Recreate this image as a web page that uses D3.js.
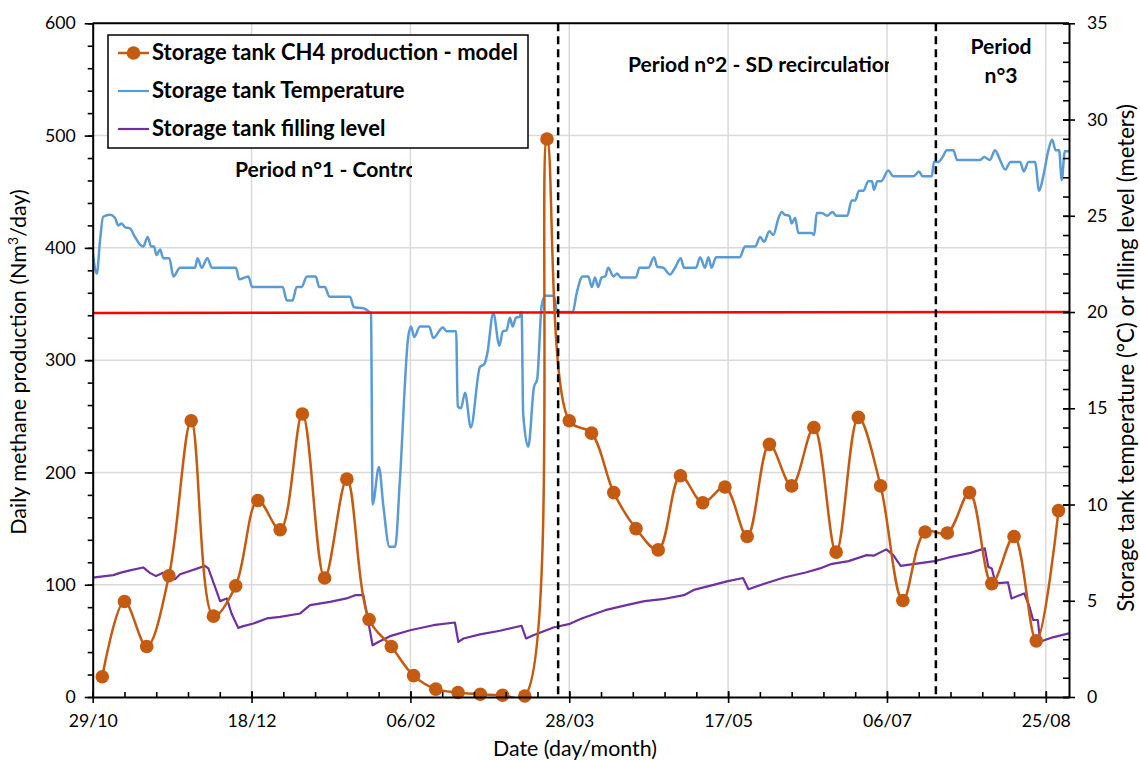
<!DOCTYPE html>
<html><head><meta charset="utf-8">
<script src="https://cdn.jsdelivr.net/npm/d3@7"></script>
<style>
body{margin:0;background:#fff}
svg{display:block}
text{font-family:Lato,"Liberation Sans",sans-serif;fill:#000}
</style>
</head><body>
<svg id="chart" width="1140" height="760"></svg>
<script>
// ---------- DATA ----------
const startDate = "2018-10-29";
const endDay = 307.3;
const xTickDays = [0, 50, 100, 150, 200, 250, 300];
const xTickLabels = ["29/10", "18/12", "06/02", "28/03", "17/05", "06/07", "25/08"];
const leftTicks = [0, 100, 200, 300, 400, 500, 600];
const rightTicks = [0, 5, 10, 15, 20, 25, 30, 35];

const ch4Dates = ["2018-11-01","2018-11-08","2018-11-15","2018-11-22","2018-11-29","2018-12-06","2018-12-13",
  "2018-12-20","2018-12-27","2019-01-03","2019-01-10","2019-01-17","2019-01-24","2019-01-31","2019-02-07",
  "2019-02-14","2019-02-21","2019-02-28","2019-03-07","2019-03-14","2019-03-21","2019-03-28","2019-04-04",
  "2019-04-11","2019-04-18","2019-04-25","2019-05-02","2019-05-09","2019-05-16","2019-05-23","2019-05-30",
  "2019-06-06","2019-06-13","2019-06-20","2019-06-27","2019-07-04","2019-07-11","2019-07-18","2019-07-25",
  "2019-08-01","2019-08-08","2019-08-15","2019-08-22","2019-08-29"];
const ch4Values = [18, 85, 45, 108, 246, 72, 99, 175, 149, 252, 106, 194, 69, 45, 19, 7, 4, 2.4, 1.5, 0.9,
  497, 246, 235, 182, 150, 131, 197, 173, 187, 143, 225, 188, 240, 129, 249, 188, 86, 147, 146, 182, 101, 143, 50, 166];

const tempDays = [0,1.3,2.3,3.3,5.4,7.0,8.0,9.1,10.2,11.7,13.3,14.9,15.9,17.3,18.4,19.3,20.1,21.2,22.2,24.1,25.4,27.5,
  32.2,33.0,34.3,36.1,37.5,45.1,46.1,49.0,50.2,59.8,61.1,62.9,64.2,65.8,67.4,70.2,71.3,73.1,74.5,81.0,82.2,85.2,87.1,
  87.6,88.1,90.1,91.5,93.4,95.2,96.7,99.3,100.2,101.2,103.0,105.9,107.2,110.2,111.4,114.4,114.9,115.9,117.2,119.0,
  121.9,123.3,124.2,126.1,128.0,129.1,130.3,131.3,132.2,133.2,134.3,135.0,135.5,137.1,138.9,139.9,141.3,142.4,145.2,
  146.2,151.1,152.3,154.2,156.0,157.1,158.1,159.1,160.2,161.3,162.3,163.9,165.1,166.2,171.0,172.1,174.9,176.7,177.7,
  179.6,181.7,183.3,185.1,186.1,189.9,191.2,192.7,193.8,194.8,196.2,203.7,205.3,208.5,210.1,211.3,213.0,214.2,215.8,
  216.9,217.9,219.3,220.0,221.1,222.1,226.3,227.1,227.9,229.5,231.1,232.9,234.0,237.5,238.9,240.0,241.2,242.6,244.1,
  245.3,245.9,247.0,248.2,250.4,252.0,258.3,260.1,261.2,264.1,264.8,266.2,267.7,268.8,270.9,272.1,279.3,280.6,282.4,
  284.0,285.6,287.2,288.9,291.9,293.1,294.5,296.6,297.9,299.2,300.8,302.0,303.1,304.2,305.0,306.0,307.3];
const tempValues = [23.1,22.0,23.7,24.95,25.05,24.9,24.5,24.6,24.4,24.35,23.9,23.5,23.4,23.9,23.4,23.4,22.95,23.25,22.8,
  22.8,21.85,22.3,22.3,22.8,22.3,22.8,22.3,22.3,21.7,21.85,21.3,21.3,20.6,20.6,21.3,21.3,21.85,21.85,21.3,21.3,20.8,20.8,
  20.25,20.2,20.0,19.9,10.0,11.95,9.9,7.8,7.8,11.3,18.7,19.25,18.7,19.25,19.25,18.65,19.2,19.0,19.0,15.1,15.0,15.8,14.0,
  17.15,17.3,17.85,19.95,18.25,19.0,19.05,19.7,19.25,19.7,19.75,20.0,14.7,13.0,16.1,16.5,20.3,20.85,20.85,
  20.0,20.0,20.95,21.85,21.85,21.3,21.8,21.3,21.8,21.85,22.3,21.85,22.0,21.8,21.8,22.3,22.3,22.85,22.35,
  22.3,21.95,22.3,22.8,22.3,22.3,22.85,22.3,22.85,22.3,22.85,22.85,23.4,23.4,23.9,23.65,24.2,24.0,24.85,
  25.2,25.05,25.0,24.6,24.9,24.1,24.1,24.0,25.15,25.15,25.0,25.2,25.0,25.0,25.8,25.8,26.3,26.3,26.8,
  26.8,26.35,26.8,26.8,27.35,27.05,27.05,27.3,27.05,27.05,27.8,27.8,28.1,28.4,28.4,27.9,27.9,28.05,27.9,
  28.4,27.9,27.4,27.8,27.8,27.3,27.8,27.8,26.3,27.05,28.4,28.95,28.4,28.4,26.85,28.35,28.35];

const levelDays = [0,6.5,8.6,11.7,15.9,18.0,19.9,22.2,24.0,25.9,27.5,30.6,35.3,36.4,38.5,40.1,42.2,43.7,45.8,47.4,50.6,
  54.8,59.0,65.3,68.4,74.7,79.9,82.6,85.2,88.1,89.9,93.6,99.9,107.2,114.0,115.1,116.7,121.9,128.2,135.0,136.4,138.7,
  145.0,150.2,153.9,161.3,168.0,173.7,179.3,186.1,189.5,195.1,199.6,204.7,206.4,210.9,217.6,224.4,228.9,232.3,237.9,
  243.6,245.8,249.8,252.0,254.3,258.2,265.0,269.5,276.3,280.8,281.9,283.0,284.2,288.1,289.2,293.2,294.9,296.0,297.5,
  298.2,302.2,307.3];
const levelValues = [6.2,6.33,6.45,6.58,6.73,6.45,6.28,6.45,6.3,6.12,6.38,6.55,6.81,6.68,5.72,4.98,5.12,4.34,3.59,3.68,3.82,
  4.08,4.16,4.34,4.77,4.94,5.12,5.29,5.29,2.69,2.86,3.16,3.47,3.73,3.87,2.86,3.04,3.25,3.44,3.70,3.04,3.21,
  3.61,3.80,4.08,4.51,4.77,4.98,5.08,5.29,5.58,5.81,6.01,6.18,5.6,5.86,6.21,6.47,6.68,6.90,7.06,
  7.37,7.34,7.67,7.37,6.81,6.90,7.06,7.25,7.49,7.72,6.76,6.68,5.90,5.95,5.12,5.38,4.68,4.0,4.0,
  2.87,3.10,3.31];

const thresholdDays = [0, 307.3];
const thresholdValues = [19.95, 20.0];
const periodBoundaryDays = [146.5, 265.4];

const legendLabels = ["Storage tank CH4 production - model", "Storage tank Temperature", "Storage tank filling level"];
const periodLabels = ["Period n°1 - Control", "Period n°2 - SD recirculation", "Period", "n°3"];

// ---------- LAYOUT ----------
const L = 92.7, R = 1069, T = 23.3, B = 697;
const cOrange = "#C55A11", cBlue = "#5B9BD5", cPurple = "#7030A0", cRed = "#FF0000";
const FONT = "Lato,'Liberation Sans',sans-serif";

const svg = d3.select("#chart");

function fitSize(str, target, weight) {
  const t = svg.append("text").attr("font-size", 100).attr("font-weight", weight || "normal")
    .attr("font-family", FONT).text(str);
  const w = t.node().getComputedTextLength();
  t.remove();
  return 100 * target / w;
}
const boldSize = fitSize(legendLabels[0], 366, "bold");
const periodSize = fitSize("Period n°2 - SD recirculatio", 256, "bold");
const tickSize = fitSize("25/08", 49, "normal");
const xTitleSize = fitSize("Date (day/month)", 164, "normal");
const leftTitleSize = fitSize("Daily methane production (Nm3/day)", 350, "normal");
const rightTitleSize = fitSize("Storage tank temperature  (°C) or filling level (meters)", 508, "normal");

const t0 = Date.parse(startDate + "T00:00:00Z");
const toDay = s => (Date.parse(s + "T00:00:00Z") - t0) / 864e5;

const x = d3.scaleLinear().domain([0, endDay]).range([L, R]);
const yL = d3.scaleLinear().domain([0, 600]).range([B, T]);
const yR = d3.scaleLinear().domain([0, 35]).range([B, T]);

const defs = svg.append("defs");
defs.append("clipPath").attr("id", "plotclip").append("rect")
  .attr("x", L).attr("y", T).attr("width", R - L).attr("height", B - T);
defs.append("clipPath").attr("id", "clipP1").append("rect")
  .attr("x", 200).attr("y", 140).attr("width", 212).attr("height", 50);
defs.append("clipPath").attr("id", "clipP2").append("rect")
  .attr("x", 600).attr("y", 40).attr("width", 289).attr("height", 50);

// gridlines
const grid = svg.append("g");
grid.selectAll("line.h").data(leftTicks.filter(d => d > 0)).join("line")
  .attr("x1", L).attr("x2", R).attr("y1", d => yL(d)).attr("y2", d => yL(d))
  .attr("stroke", "#D9D9D9").attr("stroke-width", 1.5);
grid.selectAll("line.v").data(xTickDays.filter(d => d > 0)).join("line")
  .attr("x1", d => x(d)).attr("x2", d => x(d)).attr("y1", T).attr("y2", B)
  .attr("stroke", "#D9D9D9").attr("stroke-width", 1.5);

// period labels
svg.append("text").attr("clip-path", "url(#clipP1)").attr("x", 235).attr("y", 177)
  .attr("font-size", periodSize).attr("font-weight", "bold").text(periodLabels[0]);
svg.append("text").attr("clip-path", "url(#clipP2)").attr("x", 628).attr("y", 72)
  .attr("font-size", periodSize).attr("font-weight", "bold").text(periodLabels[1]);
svg.append("text").attr("x", 1001).attr("y", 54).attr("text-anchor", "middle")
  .attr("font-size", periodSize).attr("font-weight", "bold").text(periodLabels[2]);
svg.append("text").attr("x", 1001).attr("y", 83).attr("text-anchor", "middle")
  .attr("font-size", periodSize).attr("font-weight", "bold").text(periodLabels[3]);

const plot = svg.append("g").attr("clip-path", "url(#plotclip)");

// temperature
const tempData = tempDays.map((d, i) => [d, tempValues[i]]);
plot.append("path").datum(tempData)
  .attr("fill", "none").attr("stroke", cBlue).attr("stroke-width", 2.5).attr("stroke-linejoin", "round")
  .attr("d", d3.line().x(d => x(d[0])).y(d => yR(d[1])).curve(d3.curveMonotoneX));

// threshold
const thrData = thresholdDays.map((d, i) => [d, thresholdValues[i]]);
plot.append("path").datum(thrData)
  .attr("fill", "none").attr("stroke", cRed).attr("stroke-width", 2.5)
  .attr("d", d3.line().x(d => x(d[0])).y(d => yR(d[1])));

// filling level
const levelData = levelDays.map((d, i) => [d, levelValues[i]]);
plot.append("path").datum(levelData)
  .attr("fill", "none").attr("stroke", cPurple).attr("stroke-width", 2.2).attr("stroke-linejoin", "round")
  .attr("d", d3.line().x(d => x(d[0])).y(d => yR(d[1])));

// CH4
const ch4Data = ch4Dates.map((d, i) => [toDay(d), ch4Values[i]]);
plot.append("path").datum(ch4Data)
  .attr("fill", "none").attr("stroke", cOrange).attr("stroke-width", 2.5)
  .attr("d", d3.line().x(d => x(d[0])).y(d => yL(d[1])).curve(d3.curveCatmullRom.alpha(0.5)));
svg.append("g").selectAll("circle").data(ch4Data).join("circle")
  .attr("cx", d => x(d[0])).attr("cy", d => yL(d[1])).attr("r", 6.8).attr("fill", cOrange);

// period boundaries
svg.append("g").selectAll("line").data(periodBoundaryDays).join("line")
  .attr("x1", d => x(d)).attr("x2", d => x(d)).attr("y1", T).attr("y2", B)
  .attr("stroke", "#000").attr("stroke-width", 2.5).attr("stroke-dasharray", "8,5");

// ---------- AXES ----------
const axisColor = "#000";
function styleAxis(g) {
  g.attr("font-size", null).attr("font-family", null);
  g.select(".domain").attr("stroke", axisColor).attr("stroke-width", 2);
  g.selectAll(".tick line").attr("stroke", axisColor).attr("stroke-width", 1.6);
  g.selectAll(".tick text").style("font-size", tickSize + "px").style("font-family", FONT).attr("fill", "#000");
}
svg.append("line").attr("x1", L).attr("x2", R).attr("y1", T).attr("y2", T)
  .attr("stroke", axisColor).attr("stroke-width", 2);

// left axis
svg.append("g").attr("transform", `translate(${L},0)`)
  .call(d3.axisLeft(yL).tickValues(d3.range(0, 601, 20)).tickSize(5).tickFormat(""))
  .call(g => { g.select(".domain").remove(); g.selectAll(".tick line").attr("stroke", axisColor).attr("stroke-width", 1.6); });
svg.append("g").attr("transform", `translate(${L},0)`)
  .call(d3.axisLeft(yL).tickValues(leftTicks).tickSize(8).tickSizeOuter(0).tickPadding(9).tickFormat(d3.format("d")))
  .call(styleAxis);

// right axis
svg.append("g").attr("transform", `translate(${R},0)`)
  .call(d3.axisRight(yR).tickValues(d3.range(0, 36, 1)).tickSize(-6).tickFormat(""))
  .call(g => { g.select(".domain").remove(); g.selectAll(".tick line").attr("stroke", axisColor).attr("stroke-width", 1.6); });
svg.append("g").attr("transform", `translate(${R},0)`)
  .call(d3.axisRight(yR).tickValues(rightTicks).tickSize(6).tickSizeOuter(0).tickPadding(12))
  .call(styleAxis)
  .call(g => g.selectAll(".tick line").attr("x1", -6));

// bottom axis
svg.append("g").attr("transform", `translate(0,${B})`)
  .call(d3.axisBottom(x).tickValues(d3.range(0, 308, 10)).tickSize(-5).tickFormat(""))
  .call(g => { g.select(".domain").remove(); g.selectAll(".tick line").attr("stroke", axisColor).attr("stroke-width", 1.6); });
svg.append("g").attr("transform", `translate(0,${B})`)
  .call(d3.axisBottom(x).tickValues(xTickDays).tickSize(6).tickSizeOuter(0).tickPadding(11)
    .tickFormat((d, i) => xTickLabels[i]))
  .call(styleAxis)
  .call(g => g.selectAll(".tick line").attr("y1", -6));

// axis titles
svg.append("text").attr("transform", `translate(26,362) rotate(-90)`)
  .attr("text-anchor", "middle").attr("font-size", leftTitleSize)
  .html("Daily methane production (Nm<tspan baseline-shift='super' font-size='0.65em'>3</tspan>/day)");
svg.append("text").attr("transform", `translate(1134,358) rotate(-90)`)
  .attr("text-anchor", "middle").attr("font-size", rightTitleSize)
  .text("Storage tank temperature  (°C) or filling level (meters)");
svg.append("text").attr("x", 575).attr("y", 756).attr("text-anchor", "middle").attr("font-size", xTitleSize)
  .text("Date (day/month)");

// ---------- LEGEND ----------
const lg = svg.append("g");
lg.append("rect").attr("x", 108).attr("y", 35).attr("width", 420).attr("height", 113)
  .attr("fill", "#fff").attr("stroke", "#000").attr("stroke-width", 1.5);
const legendColors = [cOrange, cBlue, cPurple];
const legendRowsY = [53, 91, 129];
legendLabels.forEach((lab, i) => {
  const yy = legendRowsY[i];
  lg.append("line").attr("x1", 118).attr("x2", 149).attr("y1", yy).attr("y2", yy)
    .attr("stroke", legendColors[i]).attr("stroke-width", i === 0 ? 2.5 : 2.2);
  if (i === 0) lg.append("circle").attr("cx", 133.5).attr("cy", yy).attr("r", 6.8).attr("fill", cOrange);
  lg.append("text").attr("x", 152).attr("y", yy + 7).attr("font-size", boldSize).attr("font-weight", "bold").text(lab);
});
</script>
</body></html>
